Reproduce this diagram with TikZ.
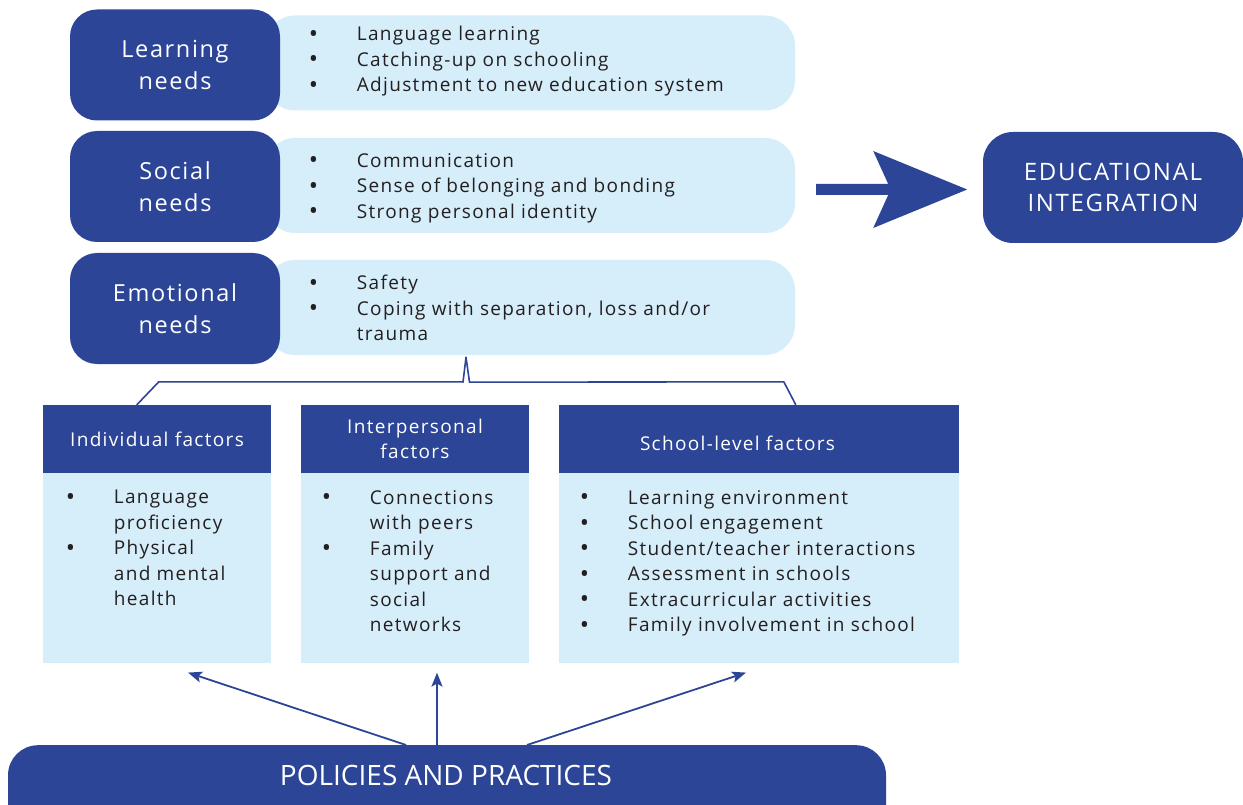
\documentclass[tikz,border=0pt]{standalone}
\usepackage{fontspec}
\setmainfont{Open Sans}[LetterSpace=7]
\newfontfamily\condfont{Open Sans}
\usetikzlibrary{arrows.meta,calc}
\definecolor{dblue}{HTML}{2C4596}
\definecolor{lblue}{HTML}{D6EDFA}
\definecolor{txt}{HTML}{231F20}
\newcommand{\bul}[1]{\makebox[48pt][l]{\raisebox{-0.08em}{\scalebox{1.3}{\textbullet}}}#1}
\newcommand{\cont}[1]{\hspace*{48pt}#1}
\begin{document}
\begin{tikzpicture}[x=1pt,y=-1pt,
  needbox/.style={fill=dblue, rounded corners=27pt, minimum width=210pt, minimum height=111pt,
    inner sep=0, text=white, align=center, font=\fontsize{23.5}{32}\selectfont},
  listbox/.style={fill=lblue, rounded corners=30pt, minimum width=530pt, minimum height=95pt, inner sep=0},
  listtext/.style={anchor=north west, inner sep=0, align=left, text=txt, font=\fontsize{19}{25.5}\selectfont},
  headbox/.style={fill=dblue, minimum height=68pt, inner sep=0, text=white, align=center,
    font=\fontsize{19}{25}\selectfont},
  bodybox/.style={fill=lblue, minimum height=190pt, inner sep=0, anchor=north},
  conn/.style={draw=dblue, line width=1.6pt},
  uparrow/.style={draw=dblue, line width=1.8pt, -{Stealth[length=14pt,width=11pt,inset=3pt]}}
]
\useasboundingbox (0,0) rectangle (1243,805);
\clip (0,0) rectangle (1243,805);

% need rows
\node[listbox] (learnl) at (530,63) {};
\node[needbox] (learn) at (175,65) {Learning\\needs};
\node[listtext] (learnt) at (308.7,26.3) {\bul{Language learning}\\\bul{Catching-up on schooling}\\\bul{Adjustment to new education system}};

\node[listbox] (socl) at (530,185.5) {};
\node[needbox] (soc) at (175,186.5) {Social\\needs};
\node[listtext] (soct) at (308.7,153) {\bul{Communication}\\\bul{Sense of belonging and bonding}\\\bul{Strong personal identity}};

\node[listbox] (emol) at (530,307.5) {};
\node[needbox] (emo) at (175,308.5) {Emotional\\needs};
\node[listtext] (emot) at (308.7,275) {\bul{Safety}\\\bul{Coping with separation, loss and/or}\\\cont{trauma}};

% educational integration
\node[fill=dblue, rounded corners=30pt, minimum width=260pt, minimum height=111pt, inner sep=0,
  text=white, align=center, font=\fontsize{24}{31}\selectfont] (edu) at (1113,187.5) {EDUCATIONAL\\INTEGRATION};

% big arrow
\coordinate (aS) at ($(socl.east)+(21,4)$);
\fill[dblue] (aS) ++(0,-5.5) -- ++(72,0) -- ++(-15,-33) -- ++(94,38.5) -- ++(-94,38.5)
  -- ++(15,-33) -- ++(-72,0) -- cycle;

% factor boxes
\node[headbox, minimum width=228pt] (indh) at (157,439) {Individual factors};
\node[bodybox, minimum width=228pt] (indb) at (indh.south) {};
\node[headbox, minimum width=228pt] (inth) at (415,439) {Interpersonal\\factors};
\node[bodybox, minimum width=228pt] (intb) at (inth.south) {};
\node[headbox, minimum width=400pt] (schh) at (759,439) {};
\node[bodybox, minimum width=400pt] (schb) at (schh.south) {};
\node[inner sep=0, text=white, font=\fontsize{19}{25}\selectfont] (scht) at (737.5,443) {School-level factors};

\node[listtext] (indt) at (65.7,490) {\bul{Language}\\\cont{proficiency}\\\bul{Physical}\\\cont{and mental}\\\cont{health}};
\node[listtext] (intt) at (321.7,490) {\bul{Connections}\\\cont{with peers}\\\bul{Family}\\\cont{support and}\\\cont{social}\\\cont{networks}};
\node[listtext] (scht2) at (579.7,490) {\bul{Learning environment}\\\bul{School engagement}\\\bul{Student/teacher interactions}\\\bul{Assessment in schools}\\\bul{Extracurricular activities}\\\bul{Family involvement in school}};

% bracket
\coordinate (bL) at ($(indh.north west)+(94,0)$);
\coordinate (bR) at ($(schh.north west)+(237,0)$);
\coordinate (bS) at ($(emol.south)+(-64,2)$);
\draw[conn, line join=round] (bL) -- ++(22,-23) -| ($(bS)+(-3,25)$) -- (bS) -- ($(bS)+(3.5,25)$) -- ($(bR)+(-12,-23)$) -- (bR);

% policies bar
\node[fill=dblue, rounded corners=30pt, minimum width=878pt, minimum height=100pt, inner sep=0, anchor=north] (bar) at (447,745) {};
\node[inner sep=0, text=white, font=\condfont\fontsize{28}{30}\selectfont] (bart) at (446,775) {POLICIES AND PRACTICES};

\coordinate (p1) at ($(bar.north)+(-41,0)$);
\coordinate (p2) at ($(bar.north)+(-10,0)$);
\coordinate (p3) at ($(bar.north)+(80,0)$);
\coordinate (e1) at ($(indb.south)+(31,9)$);
\coordinate (e2) at ($(intb.south)+(22,9)$);
\coordinate (e3) at ($(schb.south)+(-13,9)$);
\draw[uparrow] (p1) -- (e1);
\draw[uparrow] (p2) -- (e2);
\draw[uparrow] (p3) -- (e3);
\end{tikzpicture}
\end{document}
